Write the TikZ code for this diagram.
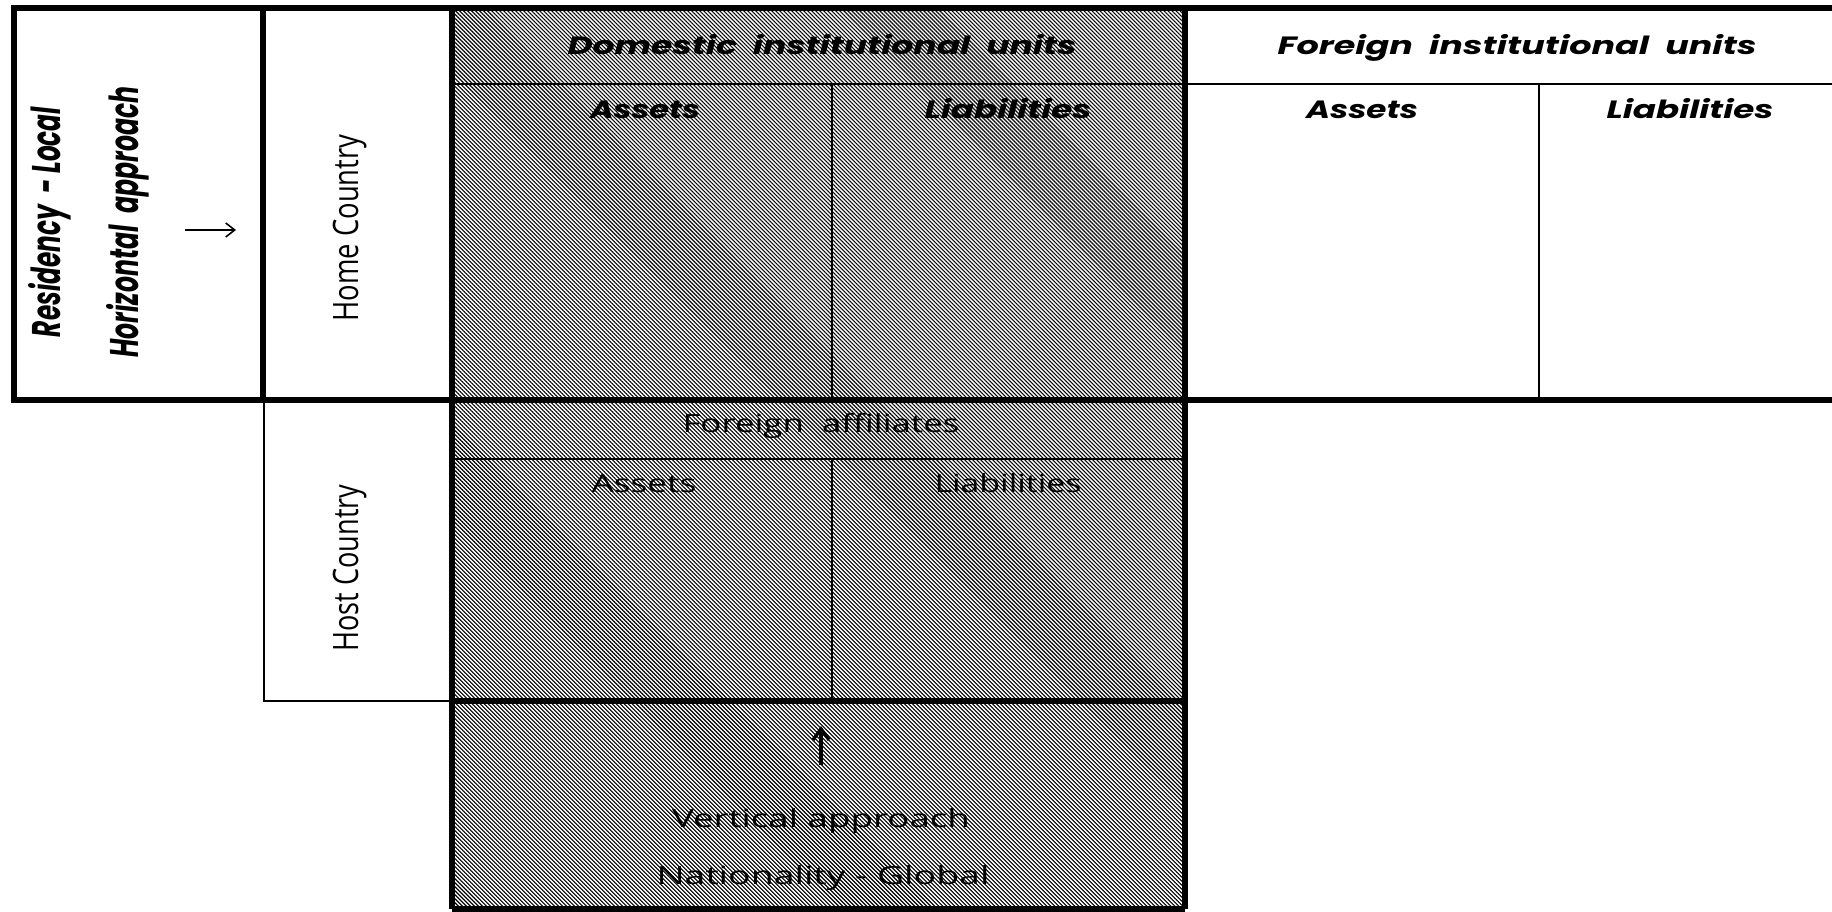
\documentclass[tikz,border=0pt]{standalone}
\usepackage{graphicx}
\usepackage{fontspec}
\setmainfont{Open Sans}
\newfontfamily\hdfont{Poppins}
\usetikzlibrary{patterns.meta,arrows.meta}
\newsavebox\fitbox
\newcommand\fitw[2]{\sbox\fitbox{#2}\pgfmathsetmacro\fitfac{#1/\wd\fitbox}\scalebox{\fitfac}[1]{\usebox\fitbox}}
\tikzset{
  thickln/.style={line width=6pt},
  thinln/.style={line width=2pt},
  hatch/.style={pattern={Lines[angle=-45,distance=2.83pt,line width=1.1pt]},pattern color=black},
  hdr/.style={font=\hdfont\bfseries\itshape\fontsize{25}{30}\selectfont,inner sep=0pt,anchor=base},
  side/.style={font=\hdfont\bfseries\itshape\fontsize{40}{48}\selectfont,inner sep=0pt,anchor=base,rotate=90},
  reg/.style={font=\fontsize{25}{30}\selectfont,inner sep=0pt,anchor=base},
  regrot/.style={font=\fontsize{35}{42}\selectfont,inner sep=0pt,anchor=base,rotate=90},
  arr/.style={line width=1.6pt,-{Straight Barb[length=9pt,width=14pt]}},
  uparr/.style={line width=3.4pt,-{Straight Barb[length=11pt,width=16pt]}}
}
\begin{document}
\begin{tikzpicture}[x=1pt,y=-1pt]
\useasboundingbox (0,0) rectangle (1832,912);
% hatched column
\fill[hatch] (452,8) rectangle (1185,909);
% thin lines
\draw[thinln] (452,84) -- (1832,84);
\draw[thinln] (832,84) -- (832,400);
\draw[thinln] (1539,84) -- (1539,400);
\draw[thinln] (452,459) -- (1185,459);
\draw[thinln] (832,459) -- (832,701);
\draw[thinln] (264,400) -- (264,701) -- (452,701);
% thick lines
\draw[thickln] (1832,8) -- (14,8) -- (14,400) -- (1832,400);
\draw[thickln] (263,8) -- (263,400);
\draw[thickln] (452,8) -- (452,909);
\draw[thickln] (1185,8) -- (1185,909);
\draw[thickln] (452,701) -- (1185,701);
\draw[thickln] (452,909) -- (1185,909);
% headers
\node[hdr] (hdrDom) at (822,55) {\fitw{509}{Domestic\ \ institutional\ \ units}};
\node[hdr] (hdrFor) at (1517,55) {\fitw{479}{Foreign\ \ institutional\ \ units}};
\node[hdr] (domA) at (645,119) {\fitw{110}{Assets}};
\node[hdr] (domL) at (1008,119) {\fitw{167}{Liabilities}};
\node[hdr] (forA) at (1362,119) {\fitw{112}{Assets}};
\node[hdr] (forL) at (1690,119) {\fitw{167}{Liabilities}};
% side labels
\node[side] (res) at (60,222) {\fitw{230}{Residency\ \ -\ Local}};
\node[side] (hor) at (138,222) {\fitw{271}{Horizontal\ \ approach}};
\coordinate (ha1) at (185,230);
\coordinate (ha2) at (236,230);
\draw[arr] (ha1) -- (ha2);
\node[regrot] (home) at (358,228) {\fitw{187}{Home Country}};
\node[regrot] (host) at (358,568) {\fitw{167}{Host Country}};
% host table
\node[reg] (affil) at (821,432) {\fitw{277}{Foreign\ \ affiliates}};
\node[reg] (hostA) at (644,492) {\fitw{105}{Assets}};
\node[reg] (hostL) at (1008,492) {\fitw{147}{Liabilities}};
% bottom block
\coordinate (va1) at (821,765);
\coordinate (va2) at (821,726);
\draw[uparr] (va1) -- (va2);
\node[reg] (vert) at (821,827) {\fitw{298}{Vertical approach}};
\node[reg] (nat) at (823,884) {\fitw{333}{Nationality\ -\ Global}};
\end{tikzpicture}
\end{document}
